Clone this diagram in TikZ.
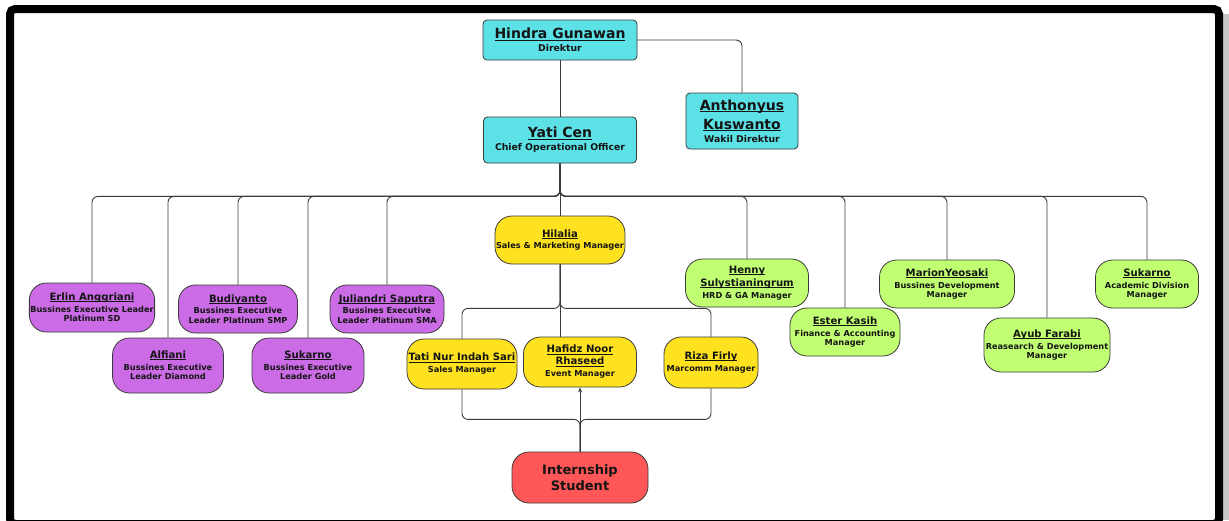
\documentclass[tikz,border=0pt]{standalone}
\usepackage{fontspec}
\setmainfont{DejaVu Sans}
\usetikzlibrary{arrows.meta}
\definecolor{ccyan}{HTML}{5CE1E6}
\definecolor{cpurple}{HTML}{CB6CE6}
\definecolor{cyellow}{HTML}{FFE21F}
\definecolor{cgreen}{HTML}{C1FF72}
\definecolor{cred}{HTML}{FF5757}
\definecolor{cedge}{HTML}{3A3A3A}
\definecolor{ctext}{HTML}{141414}
\newcommand{\myul}[1]{\setbox0\hbox{#1}\rlap{\rule[-0.13em]{\wd0}{0.075em}}\box0}
\newcommand{\bt}[1]{{\fontsize{14}{17}\selectfont\myul{#1}}}
\newcommand{\lt}[1]{{\fontsize{10.1}{12}\selectfont\myul{#1}}}
\tikzset{
  box/.style={draw=cedge, line width=0.8pt, align=center, inner sep=1pt,
    text=ctext, font=\bfseries\fontsize{8.2}{9.6}\selectfont},
  topbox/.style={box, fill=ccyan, rounded corners=4pt, font=\bfseries\fontsize{9.3}{11}\selectfont},
  pill/.style={box, rounded corners=17pt},
  purplebox/.style={pill, fill=cpurple},
  yellowbox/.style={pill, fill=cyellow},
  greenbox/.style={pill, fill=cgreen},
  redbox/.style={pill, fill=cred, font=\bfseries\fontsize{13}{16}\selectfont},
  conn/.style={draw=cedge, line width=0.9pt, rounded corners=6pt},
  sz/.style 2 args={minimum width=#1pt, minimum height=#2pt},
}
\begin{document}
\begin{tikzpicture}[x=1pt,y=-1pt]
\useasboundingbox (0,0) rectangle (1229,520);
\fill[white] (0,0) rectangle (1229,520);
\fill[gray!45] (1222,14) rectangle (1229,520);
\draw[line width=8pt, rounded corners=5pt] (10,9) rectangle (1219,524);

% top tier
\node[topbox, sz={154}{40}] (hindra) at (560,40) {\bt{Hindra Gunawan}\\[2pt]Direktur};
\node[topbox, sz={153}{46}] (yati) at (560,140) {\bt{Yati Cen}\\[2pt]Chief Operational Officer};
\node[topbox, sz={112}{56}] (anth) at (742,121) {\bt{Anthonyus}\\[5pt]\bt{Kuswanto}\\[2pt]Wakil Direktur};

% purple
\node[purplebox, sz={124}{49}] (erlin) at (92,307.5) {\lt{Erlin Anggriani}\\[2pt]Bussines Executive Leader\\Platinum SD};
\node[purplebox, sz={111}{55}] (alfiani) at (168,365.5) {\lt{Alfiani}\\[2pt]Bussines Executive\\Leader Diamond};
\node[purplebox, sz={119}{48}] (budi) at (238,309) {\lt{Budiyanto}\\[2pt]Bussines Executive\\Leader Platinum SMP};
\node[purplebox, sz={112}{55}] (sukarnop) at (308,365.5) {\lt{Sukarno}\\[2pt]Bussines Executive\\Leader Gold};
\node[purplebox, sz={114}{48}] (juliandri) at (387,309) {\lt{Juliandri Saputra}\\[2pt]Bussines Executive\\Leader Platinum SMA};

% yellow
\node[yellowbox, sz={124}{48}] (hilalia) at (560,240) {\lt{Hilalia}\\[2pt]Sales \& Marketing Manager};
\node[yellowbox, sz={110}{50}] (tati) at (462,364) {\lt{Tati Nur Indah Sari}\\[2.4pt]Sales Manager};
\node[yellowbox, sz={113}{50}] (hafidz) at (580,362) {\lt{Hafidz Noor}\\[2.4pt]\lt{Rhaseed}\\[2.4pt]Event Manager};
\node[yellowbox, sz={94}{51}] (riza) at (711,362.5) {\lt{Riza Firly}\\[2pt]Marcomm Manager};

% red
\node[redbox, sz={136}{51}] (intern) at (580,477.5) {Internship\\Student};

% green
\node[greenbox, sz={123}{48}] (henny) at (747,283) {\lt{Henny}\\[2.4pt]\lt{Sulystianingrum}\\[2.4pt]HRD \& GA Manager};
\node[greenbox, sz={110}{48}] (ester) at (845,332) {\lt{Ester Kasih}\\[2.4pt]Finance \& Accounting\\Manager};
\node[greenbox, sz={135}{48}] (marion) at (947,284) {\lt{MarionYeosaki}\\[2.4pt]Bussines Development\\Manager};
\node[greenbox, sz={126}{54}] (ayub) at (1047,345) {\lt{Ayub Farabi}\\[2.4pt]Reasearch \& Development\\Manager};
\node[greenbox, sz={103}{48}] (sukarnog) at (1147,284) {\lt{Sukarno}\\[2.4pt]Academic Division\\Manager};

% connectors top
\draw[conn] (hindra.south) -- (yati.north);
\draw[conn] (hindra.east) -| (anth.north);
\draw[conn] (yati.south) -- (hilalia.north);
\foreach \n in {erlin,alfiani,budi,sukarnop,juliandri,henny,ester,marion,ayub,sukarnog}{
  \draw[conn] (yati.south) -- ++(0,33) -| (\n.north);
}
% sales branch
\draw[conn] (hilalia.south) -- ++(0,44) -| (tati.north);
\draw[conn] (hilalia.south) -- ++(0,44) -| (riza.north);
\draw[conn] (hilalia.south) -- (hilalia.south |- hafidz.north);
\draw[conn] (tati.south) -- ++(0,30) -| (intern.north);
\draw[conn] (riza.south) -- ++(0,31) -| (intern.north);
\draw[conn, -{Stealth[length=5pt,width=4pt]}] (intern.north) -- (hafidz.south);
\end{tikzpicture}
\end{document}
